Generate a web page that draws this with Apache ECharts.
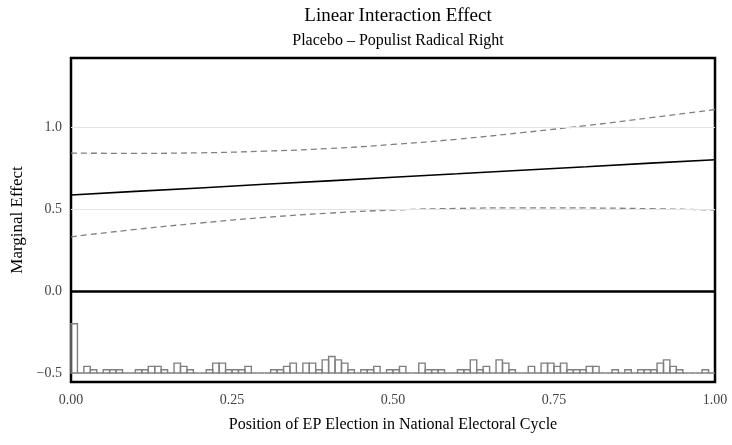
<!DOCTYPE html>
<html>
<head>
<meta charset="utf-8">
<script src="https://cdn.jsdelivr.net/npm/echarts@6/dist/echarts.min.js"></script>
<style>
html,body{margin:0;padding:0;background:#fff;}
#chart{width:732px;height:445px;}
</style>
</head>
<body>
<div id="chart"></div>
<script>
// ---- data ----
const titleText = "Linear Interaction Effect";
const subtitleText = "Placebo \u2013 Populist Radical Right";
const xAxisName = "Position of EP Election in National Electoral Cycle";
const yAxisName = "Marginal Effect";

const xTicks = [0, 0.25, 0.5, 0.75, 1];
const yTicks = [-0.5, 0, 0.5, 1.0];

// moderator values where the effect line and CI are read
const xPoints = [0, 0.1, 0.2, 0.3, 0.4, 0.5, 0.6, 0.7, 0.8, 0.9, 1.0];
const effect  = [0.585, 0.607, 0.628, 0.650, 0.671, 0.693, 0.714, 0.736, 0.757, 0.779, 0.800];
const upperCI = [0.840, 0.839, 0.842, 0.852, 0.868, 0.893, 0.925, 0.965, 1.008, 1.056, 1.106];
const lowerCI = [0.330, 0.375, 0.414, 0.448, 0.474, 0.493, 0.503, 0.507, 0.506, 0.501, 0.494];

// histogram of the moderator: 100 bins of width 0.01 starting at 0
const binWidth = 0.01;
const binCounts = [
  15,0,2,1,0,1,1,1,0,0,
  1,1,2,2,1,0,3,2,1,0,
  0,1,3,3,1,1,1,2,0,0,
  0,1,1,2,3,0,3,3,1,4,
  5,4,3,1,0,1,1,2,0,1,
  1,2,0,0,3,1,1,1,0,0,
  1,1,4,1,2,0,4,3,1,0,
  0,2,0,3,3,2,3,1,1,1,
  2,2,0,0,1,0,1,0,1,1,
  1,3,4,2,1,0,0,0,1,0
];
const histBase = -0.5;      // histogram drawn from this y value
const histUnit = 0.02;      // y units per count

const font = "'Liberation Serif', 'DejaVu Serif', serif";

const chart = echarts.init(document.getElementById('chart'), null, {renderer: 'canvas'});

const pairs = (xs, ys) => xs.map((x, i) => [x, ys[i]]);
const histData = binCounts.map((c, i) => [i * binWidth, (i + 1) * binWidth, c]);

const gridLeft = 71, gridRight = 17;
const plotCenter = gridLeft + (732 - gridLeft - gridRight) / 2;

const option = {
  backgroundColor: '#fff',
  animation: false,
  title: [
    {text: titleText, left: plotCenter, textAlign: 'center', top: 2,
     textStyle: {fontFamily: font, fontSize: 19, fontWeight: 'normal', color: '#000'}},
    {text: subtitleText, left: plotCenter, textAlign: 'center', top: 28,
     textStyle: {fontFamily: font, fontSize: 16, fontWeight: 'normal', color: '#000'}}
  ],
  grid: {left: gridLeft, right: gridRight, top: 58, bottom: 63, show: true,
         borderColor: '#000', borderWidth: 2.5, backgroundColor: 'transparent'},
  xAxis: {
    type: 'value', min: 0, max: 1, interval: 0.25,
    name: xAxisName, nameLocation: 'middle', nameGap: 35,
    nameTextStyle: {fontFamily: font, fontSize: 16, color: '#000'},
    axisLine: {show: false}, axisTick: {show: false}, splitLine: {show: false},
    axisLabel: {fontFamily: font, fontSize: 14, color: '#444', margin: 11,
                formatter: v => v.toFixed(2)}
  },
  yAxis: {
    type: 'value', min: -0.555, max: 1.42,
    name: yAxisName, nameLocation: 'middle', nameGap: 42, nameRotate: 90,
    nameTextStyle: {fontFamily: font, fontSize: 17, color: '#000'},
    axisLine: {show: false},
    axisTick: {show: false, customValues: yTicks},
    splitLine: {show: false},
    axisLabel: {fontFamily: font, fontSize: 14, color: '#444', margin: 9,
                customValues: yTicks,
                formatter: v => (v < 0 ? '\u2212' : '') + Math.abs(v).toFixed(1)}
  },
  series: [
    {
      type: 'line', data: [], silent: true,
      markLine: {
        silent: true, symbol: 'none', label: {show: false},
        lineStyle: {color: '#e3e3e3', width: 1, type: 'solid'},
        data: [{yAxis: 0.5}, {yAxis: 1.0}]
      }
    },
    {
      type: 'custom', silent: true, z: 3,
      data: histData,
      renderItem: function (params, api) {
        const p0 = api.coord([api.value(0), histBase]);
        const p1 = api.coord([api.value(1), histBase + api.value(2) * histUnit]);
        return {
          type: 'rect',
          shape: {x: p0[0], y: p1[1], width: p1[0] - p0[0], height: p0[1] - p1[1]},
          style: {fill: 'transparent', stroke: '#808080', lineWidth: 1.4}
        };
      }
    },
    {
      type: 'line', data: pairs(xPoints, upperCI), showSymbol: false, smooth: true,
      lineStyle: {color: '#808080', width: 1.3, type: [6, 4]}, z: 4
    },
    {
      type: 'line', data: pairs(xPoints, lowerCI), showSymbol: false, smooth: true,
      lineStyle: {color: '#808080', width: 1.3, type: [6, 4]}, z: 4
    },
    {
      type: 'line', data: pairs(xPoints, effect), showSymbol: false,
      lineStyle: {color: '#000', width: 1.6}, z: 5,
      markLine: {
        silent: true, symbol: 'none', label: {show: false},
        lineStyle: {color: '#000', width: 2.5, type: 'solid'},
        data: [{yAxis: 0}]
      }
    }
  ]
};
chart.setOption(option);
</script>
</body>
</html>
